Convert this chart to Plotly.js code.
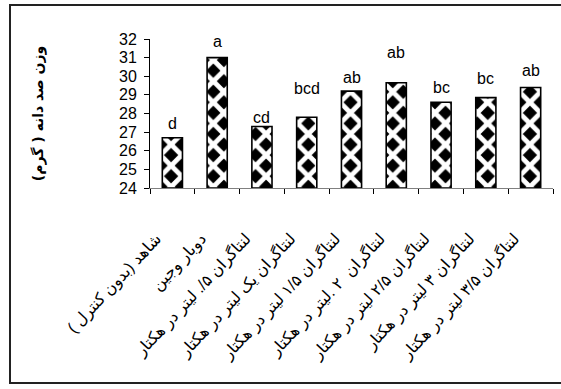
<!DOCTYPE html>
<html>
<head>
<meta charset="utf-8">
<script src="https://cdn.plot.ly/plotly-3.0.1.min.js"></script>
<style>
  html, body { margin: 0; padding: 0; background: #ffffff; }
  #chart { width: 561px; height: 389px; }
</style>
</head>
<body>
<div id="chart"></div>
<script>
// ---- data ----
const categories = [
  "شاهد (بدون کنترل )",
  "دوبار وجین",
  "لنتاگران ۵/. لیتر در هکتار",
  "لنتاگران یک لیتر در هکتار",
  "لنتاگران ۱/۵ لیتر در هکتار",
  "لنتاگران  ۲ .لیتر در هکتار",
  "لنتاگران ۲/۵ لیتر در هکتار",
  "لنتاگران ۳ لیتر در هکتار",
  "لنتاگران ۳/۵ لیتر در هکتار"
];
const seedWeight = [26.7, 31.0, 27.3, 27.8, 29.2, 29.65, 28.6, 28.85, 29.4];
const groupLetters = ["d", "a", "cd", "bcd", "ab", "ab", "bc", "bc", "ab"];
const yTickValues = [24, 25, 26, 27, 28, 29, 30, 31, 32];
const yBase = 24;
const yTitle = "وزن صد دانه ( گرم)";

// ---- style ----
const letterShift = [4, 6, -1, 18, 3, 20, 4, 9, 6];
const W = 561, H = 389;
const M = { l: 150, r: 8, t: 39, b: 201 };
const pw = W - M.l - M.r, ph = H - M.t - M.b;
const px2x = p => (p - M.l) / pw;
const py2y = p => 1 - (p - M.t) / ph;
// diamond tile sized so diamond columns line up with every bar's centre
const tile = pw / categories.length / 3;

const trace = {
  type: "bar",
  x: categories,
  y: seedWeight.map(v => v - yBase),
  base: yBase,
  marker: {
    color: "#000000",
    line: { color: "#000000", width: 1.6 },
    pattern: {
      shape: "x",
      fillmode: "overlay",
      bgcolor: "#000000",
      fgcolor: "#ffffff",
      fgopacity: 1,
      size: tile,
      solidity: 0.55
    }
  },
  hoverinfo: "skip"
};

const annotations = categories.map((c, i) => ({
  x: c, y: seedWeight[i], xref: "x", yref: "y",
  text: groupLetters[i], showarrow: false,
  yanchor: "bottom", yshift: letterShift[i],
  font: { family: "Liberation Sans, Arial, sans-serif", size: 16, color: "#000" }
}));

const layout = {
  width: W, height: H,
  margin: M,
  paper_bgcolor: "#ffffff",
  plot_bgcolor: "#ffffff",
  showlegend: false,
  bargap: 0.55,
  font: { family: "Liberation Sans, DejaVu Sans, sans-serif", color: "#000" },
  xaxis: {
    type: "category",
    tickangle: -47,
    tickson: "boundaries",
    ticks: "outside",
    ticklen: 5,
    tickcolor: "#000",
    showline: true,
    linecolor: "#808080",
    linewidth: 1,
    showgrid: false,
    zeroline: false,
    ticklabelstandoff: 34,
    ticklabelshift: -16,
    tickfont: { family: "Liberation Sans, DejaVu Sans, sans-serif", size: 16, color: "#000" },
    automargin: false
  },
  yaxis: {
    range: [24, 32],
    tickvals: yTickValues,
    ticktext: yTickValues.map(String),
    ticks: "outside",
    ticklen: 5,
    tickcolor: "#000",
    showline: true,
    linecolor: "#000",
    linewidth: 1,
    showgrid: false,
    zeroline: false,
    ticklabelstandoff: 4,
    tickfont: { family: "Liberation Sans, Arial, sans-serif", size: 16, color: "#000" },
    title: {
      text: yTitle,
      standoff: 72,
      font: { family: "DejaVu Sans, sans-serif", size: 14, color: "#000", weight: "bold" }
    },
    automargin: false
  },
  annotations: annotations,
  shapes: [{
    type: "rect", xref: "paper", yref: "paper",
    x0: px2x(10), x1: px2x(600), y0: py2y(383), y1: py2y(5),
    line: { color: "#222222", width: 2 }
  }]
};

Plotly.newPlot("chart", [trace], layout, { staticPlot: true, displayModeBar: false });
</script>
</body>
</html>
